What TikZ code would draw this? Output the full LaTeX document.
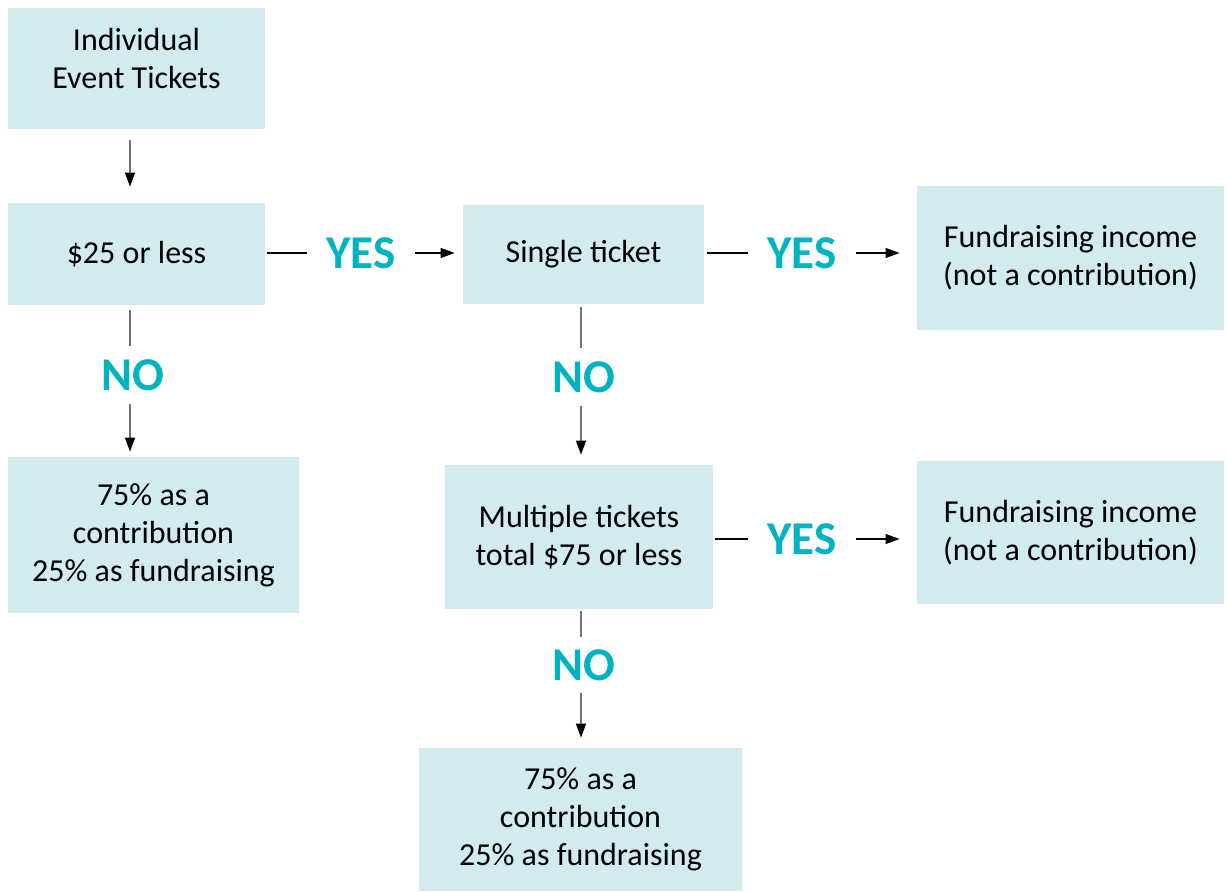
\documentclass[tikz,border=0pt]{standalone}
\usepackage{fontspec}
\setmainfont{Carlito}
\usetikzlibrary{arrows.meta}
\definecolor{boxfill}{HTML}{D1EBEE}
\definecolor{teal}{HTML}{00B3C0}
\begin{document}
\begin{tikzpicture}[x=0.5pt,y=-0.5pt,
  box/.style={fill=boxfill,draw=none,align=center,inner sep=0pt,
    font=\fontsize{16}{19}\selectfont},
  ans/.style={text=teal,font=\fontsize{23.5}{27}\selectfont\bfseries,inner sep=0pt},
  harrow/.style={draw=black,line width=0.55pt},
  varrow/.style={draw=black!55,line width=0.65pt},
  tip/.style={-{Triangle[length=7pt,width=5pt,color=black]}}]
\useasboundingbox (0,0) rectangle (1227,892);
% boxes
\node[box,minimum width=128.5pt,minimum height=60.5pt,
  label={[box,fill=none,yshift=4.75pt]center:Individual\\Event Tickets}] (n1) at (136.5,68.5) {};
\node[box,minimum width=128.5pt,minimum height=51pt] (n2) at (136.5,254) {\$25 or less};
\node[box,minimum width=120.5pt,minimum height=49.5pt] (n3) at (583.5,254.5) {Single ticket};
\node[box,minimum width=153.5pt,minimum height=72pt] (n4) at (1070.5,258) {Fundraising income\\(not a contribution)};
\node[box,minimum width=145.5pt,minimum height=78pt] (n5) at (153.5,535) {75\% as a\\contribution\\25\% as fundraising};
\node[box,minimum width=134pt,minimum height=72pt] (n6) at (579,537) {Multiple tickets\\total \$75 or less};
\node[box,minimum width=153.5pt,minimum height=71.5pt] (n7) at (1070.5,532.5) {Fundraising income\\(not a contribution)};
\node[box,minimum width=161.5pt,minimum height=71.5pt] (n8) at (580.5,819.5) {75\% as a\\contribution\\25\% as fundraising};
% answer labels
\node[ans,minimum width=54pt] (y1) at (361,253) {YES};
\node[ans,minimum width=54pt] (y2) at (802,253) {YES};
\node[ans,minimum width=54pt] (y3) at (802,539) {YES};
\node[ans,minimum height=29pt] (o1) at (133,375) {NO};
\node[ans,minimum height=29pt] (o2) at (584,377) {NO};
\node[ans,minimum height=28pt] (o3) at (584,665) {NO};
% connectors
\draw[varrow,tip,shorten <=5.5pt,shorten >=8pt] ([xshift=-3.25pt]n1.south) -- ([xshift=-3.25pt]n2.north);
\draw[harrow,shorten <=1pt] (n2.east |- y1) -- (y1.west);
\draw[harrow,tip,shorten >=4pt] (y1.east) -- (n3.west |- y1);
\draw[harrow,shorten <=1.5pt] (n3.east |- y2) -- (y2.west);
\draw[harrow,tip,shorten >=8.5pt] (y2.east) -- (n4.west |- y2);
\draw[harrow,shorten <=1pt] (n6.east |- y3) -- (y3.west);
\draw[harrow,tip,shorten >=8.5pt] (y3.east) -- (n7.west |- y3);
\draw[varrow,shorten <=2.5pt] ([xshift=-1.5pt]n2.south -| o1) -- ([xshift=-1.5pt]o1.north);
\draw[varrow,tip,shorten >=2.5pt] ([xshift=-1.5pt]o1.south) -- ([xshift=-1.5pt]n5.north -| o1);
\draw[varrow] ([xshift=-1.5pt,yshift=-1.5pt]n3.south -| o2) -- ([xshift=-1.5pt]o2.north);
\draw[varrow,tip,shorten >=5pt] ([xshift=-1.5pt]o2.south) -- ([xshift=-1.5pt]n6.north -| o2);
\draw[varrow,shorten <=1pt] ([xshift=-1.5pt]n6.south -| o3) -- ([xshift=-1.5pt]o3.north);
\draw[varrow,tip,shorten >=5pt] ([xshift=-1.5pt]o3.south) -- ([xshift=-1.5pt]n8.north -| o3);
\end{tikzpicture}
\end{document}
